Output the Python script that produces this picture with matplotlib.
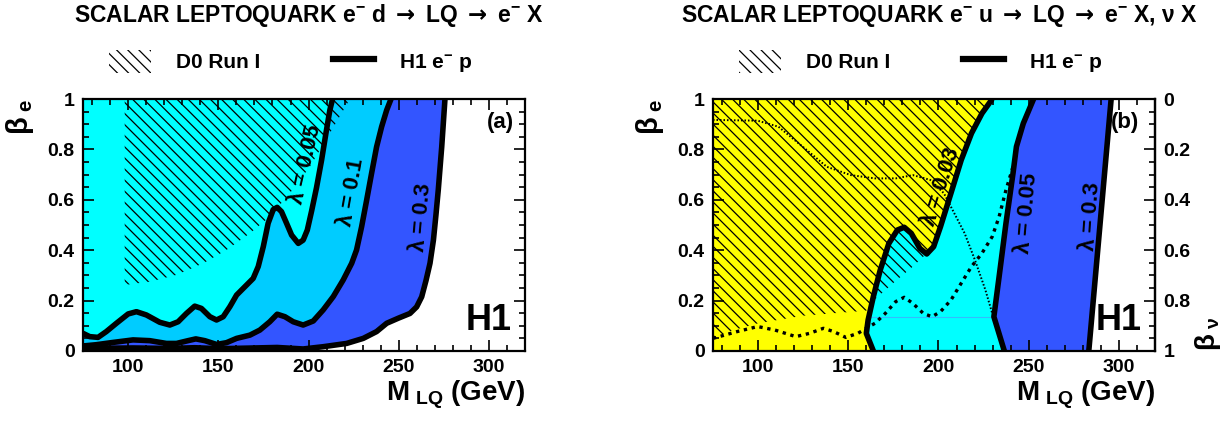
import numpy as np
import matplotlib
matplotlib.use("Agg")
import matplotlib.pyplot as plt
from matplotlib.patches import Patch
from matplotlib.lines import Line2D
from matplotlib.ticker import MultipleLocator

plt.rcParams['font.family'] = ['Liberation Sans', 'DejaVu Sans']
plt.rcParams['font.weight'] = 'bold'
plt.rcParams['axes.labelweight'] = 'bold'
plt.rcParams['mathtext.fontset'] = 'custom'
plt.rcParams['mathtext.rm'] = 'Liberation Sans:bold'
plt.rcParams['mathtext.it'] = 'Liberation Sans:bold'
plt.rcParams['mathtext.bf'] = 'Liberation Sans:bold'
plt.rcParams['mathtext.sf'] = 'DejaVu Sans:bold'
plt.rcParams['hatch.linewidth'] = 0.9

# ---- panel (a): e- d -> LQ -> e- X ----
a_l005_m = [75.0, 78.7, 83.3, 87.9, 93.5, 100.0, 104.6, 110.1, 117.5, 123.1, 127.7, 132.3,
            136.9, 140.6, 145.3, 149.0, 152.7, 156.4, 160.1, 164.7, 169.3, 172.1, 174.9,
            177.6, 180.4, 182.6, 185.0, 187.8, 190.6, 194.3, 197.0, 199.3, 201.7, 204.4,
            207.2, 209.6, 211.8, 213.3]
a_l005_b = [0.070, 0.057, 0.054, 0.077, 0.110, 0.147, 0.156, 0.143, 0.114, 0.103, 0.116, 0.149,
            0.178, 0.169, 0.136, 0.123, 0.136, 0.176, 0.222, 0.255, 0.288, 0.335, 0.414,
            0.507, 0.561, 0.570, 0.553, 0.507, 0.460, 0.427, 0.440, 0.480, 0.556, 0.648,
            0.757, 0.863, 0.956, 1.0]

a_l01_m = [75.0, 82.4, 91.6, 102.7, 112.0, 121.2, 126.8, 133.2, 137.5, 142.5, 149.0, 154.5,
           160.1, 167.5, 173.0, 178.5, 182.6, 186.9, 191.5, 197.0, 202.6, 208.1, 213.7,
           219.2, 223.9, 226.6, 229.4, 232.2, 234.9, 237.7, 240.5, 243.3, 245.7]
a_l01_b = [0.020, 0.025, 0.034, 0.044, 0.041, 0.030, 0.030, 0.041, 0.048, 0.041, 0.026, 0.033,
           0.050, 0.063, 0.083, 0.116, 0.146, 0.136, 0.116, 0.103, 0.119, 0.163, 0.216,
           0.282, 0.348, 0.401, 0.493, 0.599, 0.704, 0.810, 0.890, 0.956, 1.0]

a_l03_m = [75.0, 102.7, 123.1, 136.9, 150.8, 182.6, 197.0, 208.1, 221.1, 230.3, 237.7, 243.3,
           249.7, 256.2, 259.9, 262.7, 265.1, 267.3, 269.2, 270.6, 271.9, 273.8, 275.6]
a_l03_b = [0.010, 0.012, 0.010, 0.013, 0.009, 0.014, 0.008, 0.017, 0.030, 0.050, 0.077, 0.110,
           0.130, 0.149, 0.175, 0.215, 0.280, 0.348, 0.440, 0.540, 0.640, 0.810, 1.0]

a_d0_m = [98.1, 98.1, 112.0, 126.8, 141.6, 154.5, 167.5, 178.5, 189.6, 200.7, 211.8, 222.9]
a_d0_b = [1.0, 0.262, 0.275, 0.302, 0.348, 0.401, 0.467, 0.533, 0.626, 0.731, 0.864, 1.0]

# ---- panel (b): e- u -> LQ -> e- X, nu X ----
b_l003_m = [163.9, 160.0, 161.0, 163.9, 167.7, 172.5, 177.2, 181.0, 184.9, 189.7, 193.5,
            197.3, 201.1, 206.9, 212.6, 218.3, 224.1, 229.8]
b_l003_b = [0.0, 0.070, 0.123, 0.216, 0.321, 0.427, 0.480, 0.491, 0.467, 0.407, 0.385,
            0.414, 0.493, 0.626, 0.758, 0.864, 0.943, 1.0]

b_l005_m = [236.5, 230.7, 233.6, 237.4, 241.3, 243.2, 247.0, 252.7]
b_l005_b = [0.0, 0.136, 0.295, 0.507, 0.705, 0.811, 0.903, 1.0]

b_l03_m = [283.3, 289.5, 295.7]
b_l03_b = [0.0, 0.5, 1.0]

b_d0_m = [75.0, 75.0, 85.0, 100.0, 125.0, 160.0, 164.0, 175.0, 185.0, 195.4, 197.3, 201.1,
          206.9, 212.6, 218.3, 224.1, 229.8]
b_d0_b = [1.0, 0.05, 0.08, 0.11, 0.14, 0.16, 0.20, 0.27, 0.33, 0.40, 0.414, 0.493,
          0.626, 0.758, 0.864, 0.943, 1.0]

b_dot_m = [75.0, 99.8, 111.3, 124.7, 138.1, 151.4, 164.8, 176.3, 185.8, 195.4, 203.0, 208.8,
           214.5, 220.2, 226.0, 229.8]
b_dot_b = [0.917, 0.914, 0.890, 0.811, 0.731, 0.698, 0.685, 0.685, 0.698, 0.679, 0.626, 0.546,
           0.467, 0.361, 0.242, 0.149]

b_dash_m = [75.0, 88.4, 99.8, 109.4, 120.9, 128.5, 136.2, 141.9, 148.6, 155.3, 160.0, 164.8,
            170.5, 176.3, 181.0, 185.8, 191.6, 196.4, 201.1, 206.9, 212.6, 218.3, 224.1,
            229.8, 233.6, 237.4, 241.3]
b_dash_b = [0.050, 0.077, 0.097, 0.083, 0.057, 0.070, 0.090, 0.077, 0.054, 0.070, 0.090, 0.110,
            0.149, 0.196, 0.213, 0.189, 0.149, 0.136, 0.156, 0.202, 0.269, 0.335, 0.388,
            0.454, 0.533, 0.639, 0.731]

b_hline_m = [160.5, 230.7]
b_hline_b = [0.136, 0.136]

cyan = '#00ffff'
midblue = '#00ccff'
blue = '#3355ff'
yellow = '#ffff00'
xmin, xmax = 75, 320


def region(ax, m, b, color):
    # excluded area: left of / above the curve
    ax.fill(list(m) + [xmin, xmin], list(b) + [1.0, b[0]], color=color, lw=0)


def style(ax):
    ax.set_xlim(xmin, xmax)
    ax.set_ylim(0, 1)
    ax.xaxis.set_major_locator(MultipleLocator(50))
    ax.xaxis.set_minor_locator(MultipleLocator(10))
    ax.yaxis.set_minor_locator(MultipleLocator(0.05))
    ax.set_yticks([0, 0.2, 0.4, 0.6, 0.8, 1.0], ['0', '0.2', '0.4', '0.6', '0.8', '1'])
    ax.tick_params(which='both', direction='in', top=True, right=True, width=1.2,
                   labelsize=14, pad=6)
    ax.tick_params(which='major', length=8)
    ax.tick_params(which='minor', length=4)
    for s in ax.spines.values():
        s.set_linewidth(1.6)
        s.set_zorder(10)
    ax.set_xlabel(r'M$_{\ \mathregular{LQ}}$ (GeV)', fontsize=20, loc='right', labelpad=2)
    ax.set_ylabel(r'$\beta_{\ \mathregular{e}}$', fontsize=21, loc='top', labelpad=8)
    ax.text(0.97, 0.05, 'H1', transform=ax.transAxes, ha='right', va='bottom',
            fontsize=26, zorder=12)


def legend(ax):
    handles = [Patch(facecolor='white', edgecolor='black', hatch='\\\\\\', lw=0),
               Line2D([], [], color='black', lw=4.5)]
    ax.legend(handles, ['D0 Run I', r'H1 e$^{-}$ p'], loc='center',
              bbox_to_anchor=(0.47, 1.147), ncol=2, frameon=False, fontsize=15,
              handlelength=2.0, handleheight=1.3, handletextpad=1.2, columnspacing=3.5)


fig = plt.figure(figsize=(12.32, 4.24), dpi=100)
ax1 = fig.add_axes([0.0674, 0.1722, 0.3588, 0.5943])
ax2 = fig.add_axes([0.5787, 0.1722, 0.3588, 0.5943])

arrow = r'$\mathsf{\rightarrow}$'

# panel (a)
region(ax1, a_l03_m, a_l03_b, blue)
region(ax1, a_l01_m, a_l01_b, midblue)
region(ax1, a_l005_m, a_l005_b, cyan)
ax1.fill(a_d0_m, a_d0_b, facecolor='none', edgecolor='black', hatch='\\\\\\', lw=0)
for m, b in [(a_l03_m, a_l03_b), (a_l01_m, a_l01_b), (a_l005_m, a_l005_b)]:
    ax1.plot(m, b, color='black', lw=4, solid_capstyle='butt', zorder=5)
ax1.text(198.3, 0.74, 'λ = 0.05', rotation=77, ha='center', va='center', fontsize=16, zorder=6)
ax1.text(223.6, 0.63, 'λ = 0.1', rotation=80, ha='center', va='center', fontsize=16, zorder=6)
ax1.text(262.7, 0.53, 'λ = 0.3', rotation=85, ha='center', va='center', fontsize=16, zorder=6)
ax1.text(0.975, 0.905, '(a)', transform=ax1.transAxes, ha='right', va='center', fontsize=16)
style(ax1)
legend(ax1)
ax1.text(0.51, 1.33, 'SCALAR LEPTOQUARK e$^{-}$ d ' + arrow + ' LQ ' + arrow + ' e$^{-}$ X',
         transform=ax1.transAxes, ha='center', va='center', fontsize=16.5)

# panel (b)
region(ax2, b_l03_m, b_l03_b, blue)
region(ax2, b_l005_m, b_l005_b, cyan)
region(ax2, b_l003_m, b_l003_b, yellow)
ax2.fill(b_d0_m, b_d0_b, facecolor='none', edgecolor='black', hatch='\\\\\\', lw=0)
ax2.plot(b_hline_m, b_hline_b, color='#33bbff', lw=0.8, zorder=3)
ax2.plot(b_dot_m, b_dot_b, color='black', lw=1.4, linestyle=(0, (0.8, 1.0)), zorder=4)
ax2.plot(b_dash_m, b_dash_b, color='black', lw=2.4, linestyle=(0, (1.0, 1.4)), zorder=4)
for m, b in [(b_l03_m, b_l03_b), (b_l005_m, b_l005_b), (b_l003_m, b_l003_b)]:
    ax2.plot(m, b, color='black', lw=4, solid_capstyle='butt', zorder=5)
ax2.text(201.5, 0.65, 'λ = 0.03', rotation=72, ha='center', va='center', fontsize=16, zorder=6)
ax2.text(248.9, 0.546, 'λ = 0.05', rotation=85, ha='center', va='center', fontsize=16, zorder=6)
ax2.text(284.3, 0.533, 'λ = 0.3', rotation=86, ha='center', va='center', fontsize=16, zorder=6)
ax2.text(0.965, 0.905, '(b)', transform=ax2.transAxes, ha='right', va='center', fontsize=16)
style(ax2)
ax2.tick_params(which='both', right=False)
legend(ax2)
ax2.text(0.511, 1.33,
         'SCALAR LEPTOQUARK e$^{-}$ u ' + arrow + ' LQ ' + arrow + ' e$^{-}$ X, ν X',
         transform=ax2.transAxes, ha='center', va='center', fontsize=16.5)

sec = ax2.secondary_yaxis('right', functions=(lambda b: 1 - b, lambda b: 1 - b))
sec.set_yticks([0, 0.2, 0.4, 0.6, 0.8, 1.0], ['0', '0.2', '0.4', '0.6', '0.8', '1'])
sec.yaxis.set_minor_locator(MultipleLocator(0.05))
sec.tick_params(which='both', direction='in', width=1.2, labelsize=14, pad=6)
sec.tick_params(which='major', length=8)
sec.tick_params(which='minor', length=4)
sec.spines['right'].set_linewidth(1.6)
sec.set_ylabel(r'$\beta_{\ \nu}$', fontsize=20, loc='bottom', labelpad=2)

fig.savefig('out.png', dpi=100)
